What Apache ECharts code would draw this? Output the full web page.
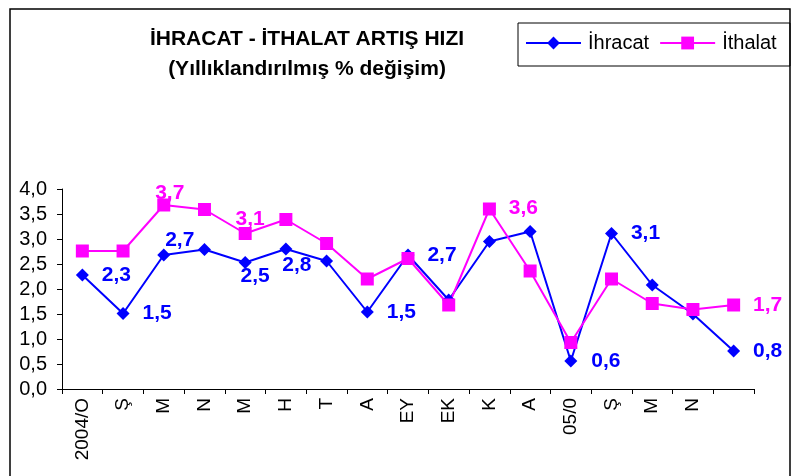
<!DOCTYPE html>
<html>
<head>
<meta charset="utf-8">
<script src="https://cdn.jsdelivr.net/npm/echarts@6/dist/echarts.min.js"></script>
<style>
    html, body { margin: 0; padding: 0; background: #fff; }
    #chart { width: 802px; height: 476px; }
</style>
</head>
<body>
<div id="chart"></div>
<script>
// aylar (son kategori etiketsiz)
var categories = ['2004/O', 'Ş', 'M', 'N', 'M', 'H', 'T', 'A', 'EY', 'EK', 'K', 'A', '05/0', 'Ş', 'M', 'N', '']
var ihracat = [2.28, 1.51, 2.68, 2.79, 2.53, 2.8, 2.56, 1.54, 2.68, 1.78, 2.95, 3.15, 0.56, 3.11, 2.08, 1.5, 0.76]
var ithalat = [2.76, 2.76, 3.68, 3.59, 3.11, 3.39, 2.91, 2.2, 2.61, 1.68, 3.6, 2.36, 0.93, 2.2, 1.71, 1.59, 1.68]
var yTicks = [0, 0.5, 1, 1.5, 2, 2.5, 3, 3.5, 4]

// etiket gösterilen noktalar ve kaydırmaları
var ihracatLabels = { 0: [34, 0], 1: [34, 0], 2: [16, -15], 4: [10, 14], 5: [11, 16], 7: [34, 0], 8: [34, 0], 12: [35, 0], 13: [34, 0], 16: [34, 0] }
var ithalatLabels = { 2: [6, -12], 4: [5, -14], 10: [34, -1], 16: [34, 0] }

var FONT = '"Liberation Sans", Arial, sans-serif'

function fmt(v) {
    return v.toFixed(1).replace('.', ',')
}

function buildData(values, labels, color) {
    return values.map(function(v, i) {
        var item = { value: v }
        if (labels[i]) {
            item.label = {
                show: true,
                position: 'inside',
                offset: labels[i],
                formatter: function(p) { return fmt(p.value) },
                color: color,
                fontFamily: FONT,
                fontWeight: 'bold',
                fontSize: 21,
            }
        }
        return item
    })
}

var myChart = echarts.init(document.getElementById('chart'), null, { renderer: 'canvas' })

var option = {
    animation: false,
    backgroundColor: '#fff',
    title: [
        {
            text: 'İHRACAT - İTHALAT ARTIŞ HIZI',
            left: 302,
            top: 24,
            textAlign: 'center',
            textStyle: { fontFamily: FONT, fontSize: 21, fontWeight: 'bold', color: '#000' },
        },
        {
            text: '(Yıllıklandırılmış % değişim)',
            left: 302,
            top: 54,
            textAlign: 'center',
            textStyle: { fontFamily: FONT, fontSize: 21, fontWeight: 'bold', color: '#000' },
        },
    ],
    graphic: [
        {
            type: 'rect',
            shape: { x: 10, y: 9, width: 780, height: 480 },
            style: { fill: 'none', stroke: '#000', lineWidth: 1.5 },
            silent: true,
        },
        {
            type: 'rect',
            shape: { x: 518, y: 23, width: 272, height: 43 },
            style: { fill: 'none', stroke: '#000', lineWidth: 1 },
            silent: true,
        },
    ],
    legend: {
        left: 525,
        top: 33,
        itemWidth: 55,
        itemHeight: 16,
        itemGap: 10,
        padding: 0,
        textStyle: { fontFamily: FONT, fontSize: 20, color: '#000', padding: [0, 0, 0, 2] },
        data: ['İhracat', 'İthalat'],
    },
    grid: {
        left: 62,
        right: 48,
        top: 189,
        height: 200,
        containLabel: false,
    },
    xAxis: {
        type: 'category',
        boundaryGap: true,
        data: categories,
        axisLine: { lineStyle: { color: '#000', width: 1 } },
        axisTick: { show: true, length: 5, lineStyle: { color: '#000' } },
        axisLabel: {
            interval: 0,
            rotate: 90,
            margin: 9,
            fontFamily: FONT,
            fontSize: 19,
            color: '#000',
        },
    },
    yAxis: {
        type: 'value',
        min: yTicks[0],
        max: yTicks[yTicks.length - 1],
        interval: 0.5,
        axisLine: { show: true, lineStyle: { color: '#000', width: 1 } },
        axisTick: { show: true, length: 5, lineStyle: { color: '#000' } },
        splitLine: { show: false },
        axisLabel: {
            margin: 15,
            fontFamily: FONT,
            fontSize: 20,
            color: '#000',
            formatter: function(v) { return fmt(v) },
        },
    },
    series: [
        {
            name: 'İhracat',
            type: 'line',
            symbol: 'diamond',
            symbolSize: 13,
            lineStyle: { color: '#0000FF', width: 2 },
            itemStyle: { color: '#0000FF' },
            data: buildData(ihracat, ihracatLabels, '#0000FF'),
        },
        {
            name: 'İthalat',
            type: 'line',
            symbol: 'rect',
            symbolSize: 13,
            lineStyle: { color: '#FF00FF', width: 2 },
            itemStyle: { color: '#FF00FF' },
            data: buildData(ithalat, ithalatLabels, '#FF00FF'),
        },
    ],
}

myChart.setOption(option)
</script>
</body>
</html>
